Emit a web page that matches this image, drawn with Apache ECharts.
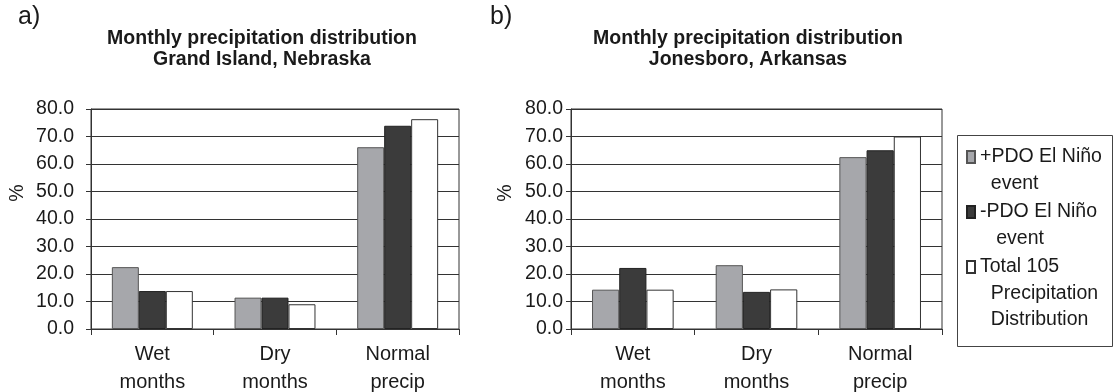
<!DOCTYPE html>
<html><head><meta charset="utf-8">
<script src="https://cdn.jsdelivr.net/npm/echarts@6/dist/echarts.min.js"></script>
<style>html,body{margin:0;padding:0;background:#fff}#c{width:1115px;height:392px}</style>
</head><body><div id="c"></div>
<script>
const categories = ['Wet\nmonths', 'Dry\nmonths', 'Normal\nprecip'];
const seriesNames = ['+PDO El Niño event', '-PDO El Niño event', 'Total 105 Precipitation Distribution'];
const legendLabels = [['+PDO El Niño', '  event'], ['-PDO El Niño', '   event'], ['Total 105', '  Precipitation', '  Distribution']];
const titles = ['Monthly precipitation distribution\nGrand Island, Nebraska', 'Monthly precipitation distribution\nJonesboro, Arkansas'];
const panelLabels = ['a)', 'b)'];
const grandIslandPlus  = [22.5, 11.4, 66.1];
const grandIslandMinus = [13.8, 11.4, 73.9];
const grandIslandTotal = [13.8,  9.0, 76.3];
const jonesboroPlus  = [14.3, 23.2, 62.5];
const jonesboroMinus = [22.2, 13.5, 65.0];
const jonesboroTotal = [14.3, 14.4, 70.0];
const yMin = 0, yMax = 80, yStep = 10;
const yAxisName = '%';

const FONT = '"Liberation Sans", Arial, sans-serif';
const TXT = '#1a1a1a';
const LINE = '#333';
const colors = ['#a6a7ab', '#3b3b3b', '#ffffff'];
const borders = ['#555', '#222', '#333'];

const chart = echarts.init(document.getElementById('c'), null, {renderer: 'canvas'});

function grid(left, width) {
  return {left: left, top: 109, width: width, height: 220, show: true, borderColor: LINE, borderWidth: 1,
          backgroundColor: 'transparent', containLabel: false, outerBoundsMode: 'none'};
}
function xAxis(i) {
  return {type: 'category', gridIndex: i, data: categories,
    axisLine: {show: true, lineStyle: {color: LINE, width: 1}},
    axisTick: {show: true, length: 6, lineStyle: {color: LINE}},
    axisLabel: {fontSize: 20, lineHeight: 28, color: TXT, fontFamily: FONT, margin: 11, interval: 0},
    splitLine: {show: false}};
}
function yAxis(i, margin, nameGap) {
  return {type: 'value', gridIndex: i, min: yMin, max: yMax, interval: yStep,
    name: yAxisName, nameLocation: 'middle', nameRotate: 90, nameGap: nameGap,
    nameTextStyle: {fontSize: 19.5, color: TXT, fontFamily: FONT, padding: [0, 0, 0, 52]},
    axisLine: {show: true, lineStyle: {color: LINE, width: 1}},
    axisTick: {show: true, length: 5, lineStyle: {color: LINE}},
    axisLabel: {fontSize: 19.5, color: TXT, fontFamily: FONT, margin: margin,
      formatter: function (v) { return v.toFixed(1); }},
    splitLine: {show: true, lineStyle: {color: LINE, width: 1}}};
}
function bar(k, data, gi) {
  return {type: 'bar', name: seriesNames[k], data: data, xAxisIndex: gi, yAxisIndex: gi,
    barGap: '0%', barCategoryGap: '34%',
    itemStyle: {color: colors[k], borderColor: borders[k], borderWidth: 1},
    emphasis: {disabled: true}, silent: true};
}
// Legend text is centred on its icon; blank lines above the first line put the first line level with the icon.
function legendText(lines) {
  const pad = [];
  for (let j = 1; j < lines.length; j++) pad.push('');
  return pad.concat(lines).join('\n');
}
const LH = 26.5;
const firstLineCenters = [157, 212, 267];

const option = {
  animation: false,
  backgroundColor: '#fff',
  title: [
    {text: panelLabels[0], left: 18, top: 5, padding: 0, textStyle: {fontSize: 25, fontWeight: 'normal', color: TXT, fontFamily: FONT}},
    {text: panelLabels[1], left: 490, top: 5, padding: 0, textStyle: {fontSize: 25, fontWeight: 'normal', color: TXT, fontFamily: FONT}},
    {text: titles[0], left: 262, top: 28, padding: 0, textAlign: 'center', textStyle: {fontSize: 19.5, fontWeight: 'bold', lineHeight: 21, color: TXT, fontFamily: FONT}},
    {text: titles[1], left: 748, top: 28, padding: 0, textAlign: 'center', textStyle: {fontSize: 19.5, fontWeight: 'bold', lineHeight: 21, color: TXT, fontFamily: FONT}}
  ],
  grid: [grid(91, 368), grid(571, 371)],
  xAxis: [xAxis(0), xAxis(1)],
  yAxis: [yAxis(0, 17, 63), yAxis(1, 8, 55)],
  legend: seriesNames.map(function (n, i) {
    const nLines = 2 * legendLabels[i].length - 1;
    const boxH = nLines * LH;
    const top = firstLineCenters[i] - boxH / 2;
    return {data: [n], left: 966, top: top, orient: 'vertical', padding: 0,
      itemWidth: 8, itemHeight: 12, icon: 'rect', selectedMode: false,
      formatter: function () { return legendText(legendLabels[i]); },
      textStyle: {fontSize: 19.5, lineHeight: LH, color: TXT, fontFamily: FONT}};
  }),
  graphic: [{type: 'rect', shape: {x: 957.5, y: 135.5, width: 155, height: 211},
    style: {fill: 'none', stroke: '#444', lineWidth: 1}, silent: true}],
  series: [
    bar(0, grandIslandPlus, 0), bar(1, grandIslandMinus, 0), bar(2, grandIslandTotal, 0),
    bar(0, jonesboroPlus, 1), bar(1, jonesboroMinus, 1), bar(2, jonesboroTotal, 1)
  ]
};
chart.setOption(option);
</script>
</body></html>
